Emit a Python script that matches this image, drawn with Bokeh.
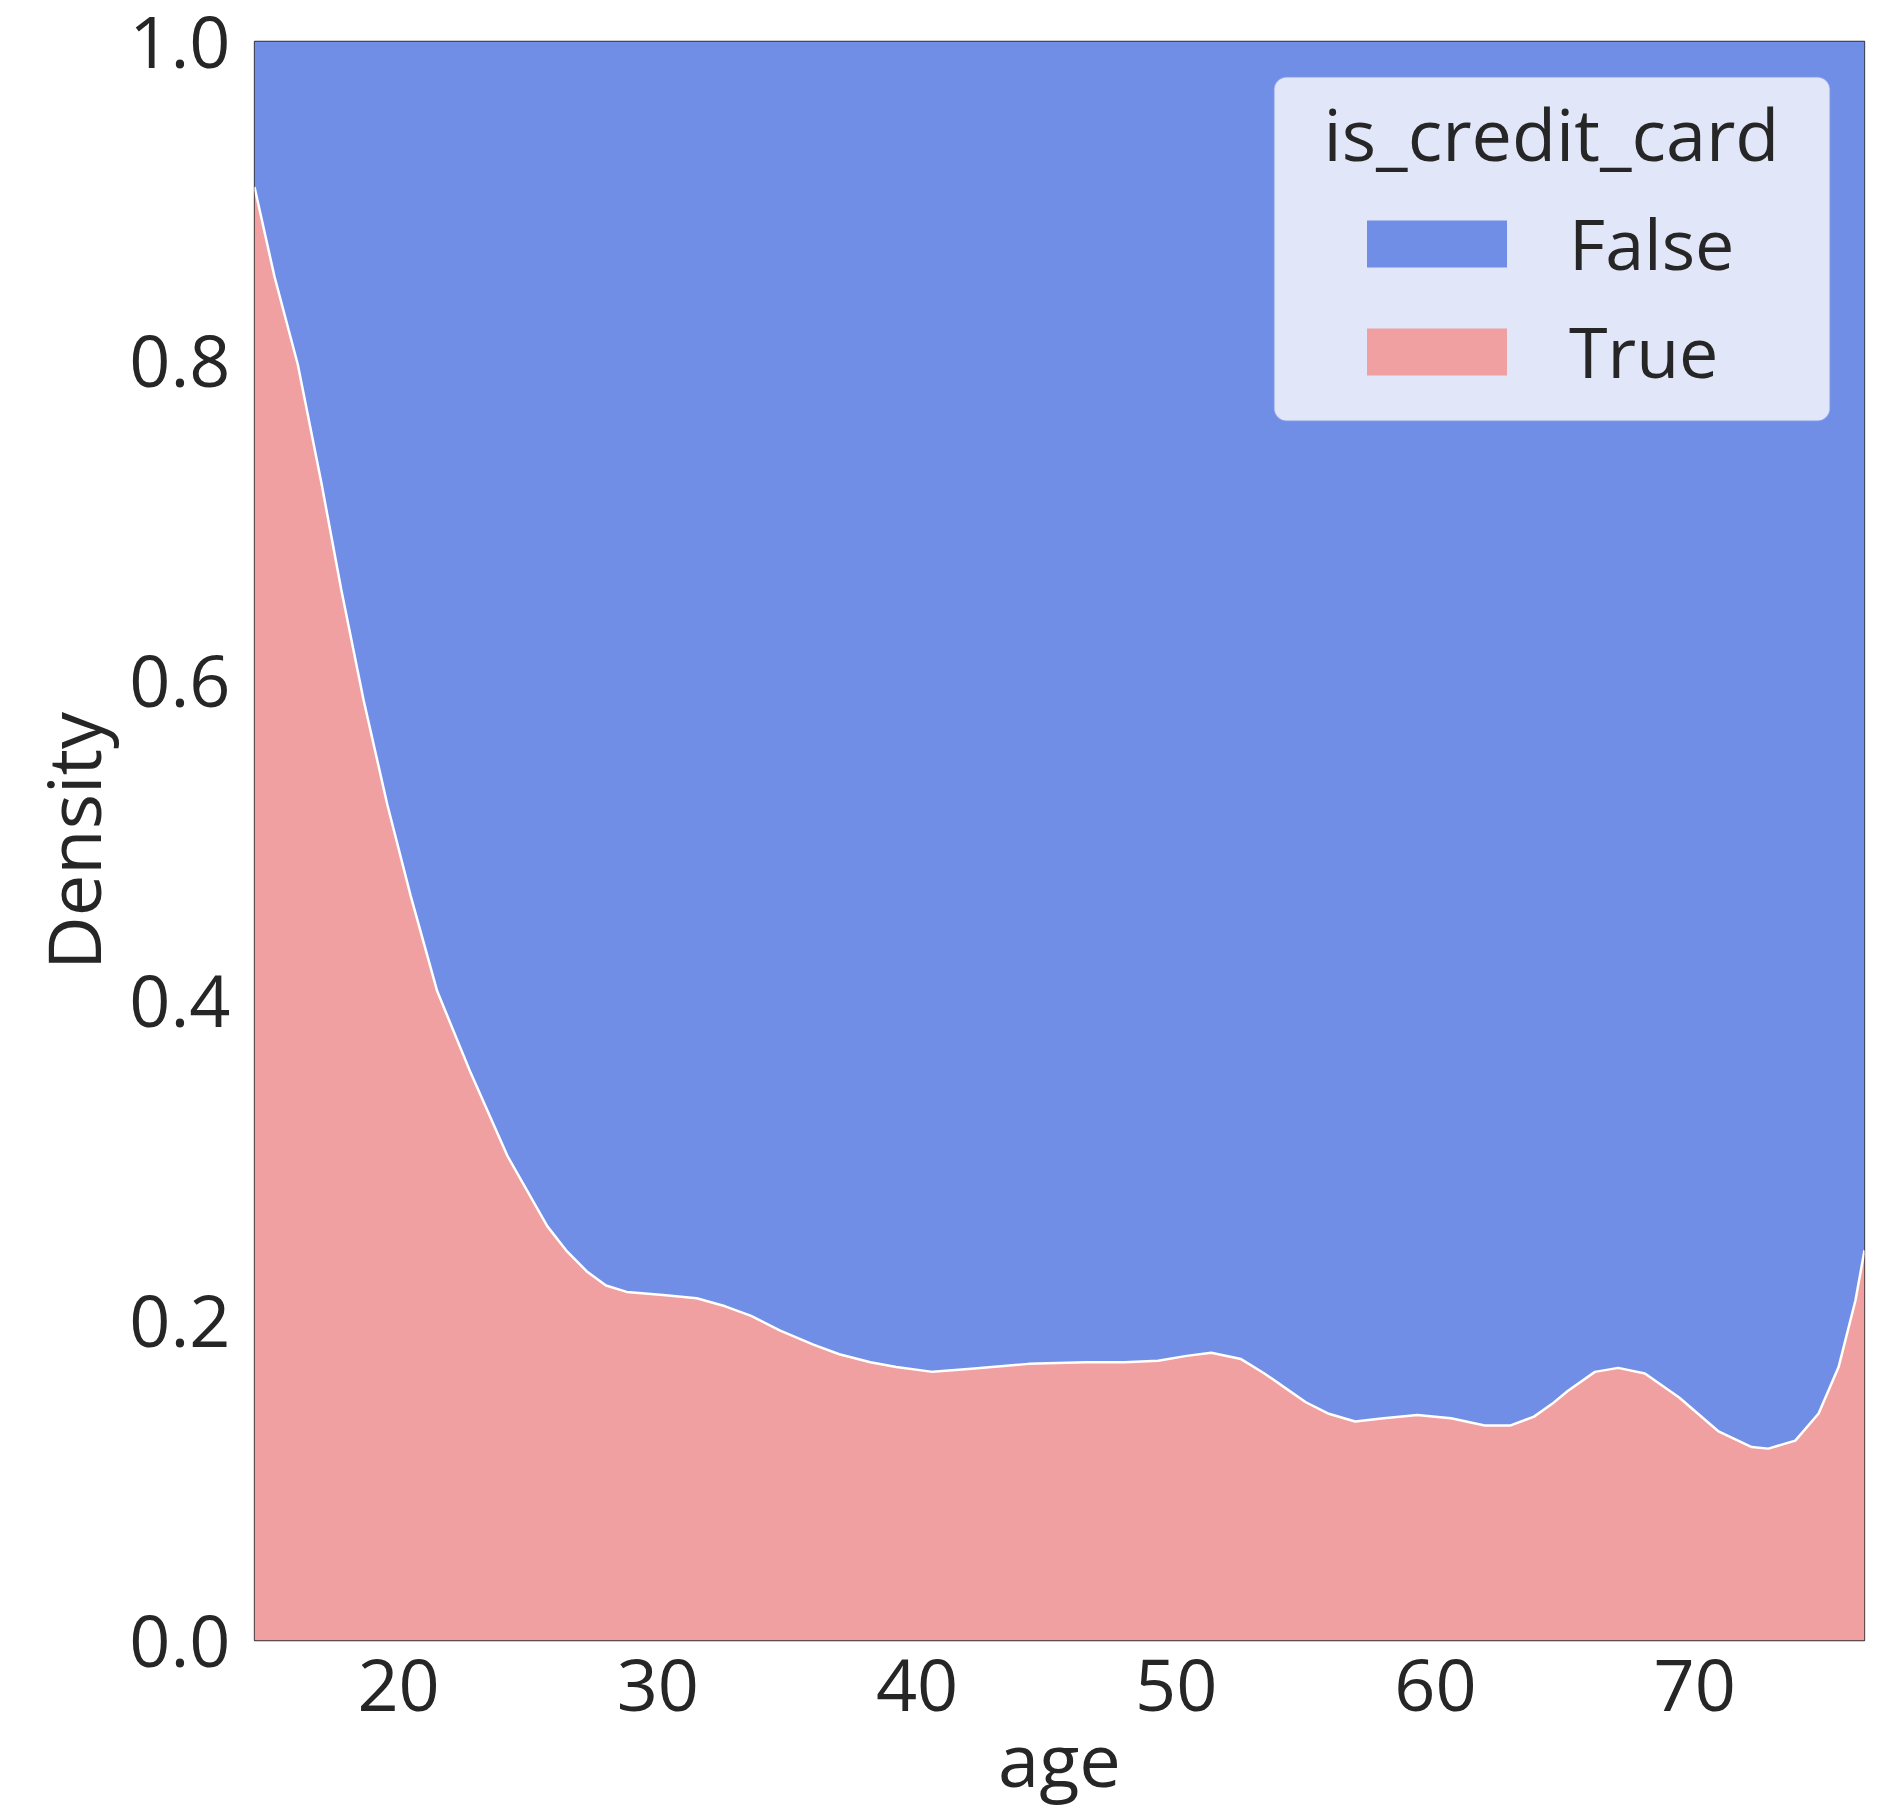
from bokeh.plotting import figure
from bokeh.models import (Range1d, FixedTicker, Legend, LegendItem, BoxAnnotation,
                          Label, ColumnDataSource, PrintfTickFormatter)
from bokeh.embed import file_html
from bokeh.resources import INLINE

# ---- data (share of "True" at each age) ----
age = [14.44, 15.21, 16.11, 17.02, 17.79, 18.65, 19.56, 20.46, 21.49, 22.78,
       24.2, 25.74, 26.46, 27.25, 28.0, 28.8, 30.2, 31.5, 32.6, 33.6,
       34.7, 36.0, 37.0, 38.2, 39.2, 40.6, 42.1, 44.3, 46.5, 48.0,
       49.3, 50.4, 51.35, 52.5, 53.4, 54.2, 55.0, 55.85, 56.9, 58.0,
       59.3, 60.6, 61.9, 62.9, 63.8, 64.5, 65.1, 66.15, 67.05, 68.08,
       69.4, 70.9, 72.2, 72.84, 73.88, 74.78, 75.55, 76.2, 76.55]
share_true = [0.909, 0.853, 0.798, 0.724, 0.657, 0.588, 0.523, 0.466, 0.406, 0.355,
              0.303, 0.259, 0.244, 0.231, 0.222, 0.218, 0.216, 0.214, 0.209, 0.203,
              0.194, 0.185, 0.179, 0.174, 0.171, 0.168, 0.170, 0.173, 0.174, 0.174,
              0.175, 0.178, 0.180, 0.176, 0.167, 0.158, 0.149, 0.142, 0.137, 0.139,
              0.141, 0.139, 0.1345, 0.1345, 0.140, 0.148, 0.156, 0.168, 0.1705, 0.167,
              0.152, 0.131, 0.121, 0.120, 0.125, 0.142, 0.171, 0.2126, 0.244]
categories = ["False", "True"]
legend_title = "is_credit_card"
x_ticks = [20, 30, 40, 50, 60, 70]
y_ticks = [0.0, 0.2, 0.4, 0.6, 0.8, 1.0]
x_label = "age"
y_label = "Density"

# ---- styles ----
FONT = "Open Sans"
TXT = "#262626"
BLUE = "#708EE6"
PINK = "#F0A0A0"

src = ColumnDataSource(dict(age=age, share_true=share_true,
                            full=[1.0] * len(age)))

p = figure(width=1880, height=1812,
           x_range=Range1d(14.44, 76.55), y_range=Range1d(0, 1),
           output_backend="svg", toolbar_location=None,
           min_border_left=254, min_border_top=41,
           min_border_right=16, min_border_bottom=172)

r_false = p.varea(x="age", y1="share_true", y2="full", source=src,
                  fill_color=BLUE, fill_alpha=1)
r_true = p.varea(x="age", y1=0, y2="share_true", source=src,
                 fill_color=PINK, fill_alpha=1)
p.line(x="age", y="share_true", source=src, line_color="white", line_width=2.5)

p.xgrid.visible = False
p.ygrid.visible = False
p.outline_line_color = "#333333"
p.outline_line_width = 1.3
p.background_fill_color = "white"

for ax in (p.xaxis[0], p.yaxis[0]):
    ax.axis_line_color = None
    ax.major_tick_line_color = None
    ax.minor_tick_line_color = None
    ax.major_tick_out = 0
    ax.major_tick_in = 0
    ax.minor_tick_out = 0
    ax.major_label_text_font = FONT
    ax.major_label_text_font_size = "72px"
    ax.major_label_text_color = TXT
    ax.axis_label_text_font = FONT
    ax.axis_label_text_font_size = "74px"
    ax.axis_label_text_font_style = "normal"
    ax.axis_label_text_color = TXT

p.xaxis.ticker = FixedTicker(ticks=x_ticks)
p.xaxis.formatter = PrintfTickFormatter(format="%d")
p.xaxis.axis_label = x_label
p.xaxis.major_label_standoff = 18
p.xaxis.axis_label_standoff = -6

p.yaxis.ticker = FixedTicker(ticks=y_ticks)
p.yaxis.formatter = PrintfTickFormatter(format="%.1f")
p.yaxis.axis_label = y_label
p.yaxis.major_label_standoff = 24
p.yaxis.axis_label_standoff = 3

# legend background box (screen px from the frame's bottom-left corner)
box = BoxAnnotation(left=1020, right=1575, top=1563, bottom=1220,
                    left_units="screen", right_units="screen",
                    top_units="screen", bottom_units="screen",
                    fill_color="#E1E6F8", fill_alpha=1,
                    line_color="#CFD7F2", line_width=1.5, border_radius=12)
p.add_layout(box)

title = Label(x=1297, y=1508, x_units="screen", y_units="screen",
              text=legend_title, text_font=FONT, text_font_size="72px",
              text_color=TXT, text_align="center", text_baseline="alphabetic")
p.add_layout(title)

legend = Legend(items=[LegendItem(label=categories[0], renderers=[r_false]),
                       LegendItem(label=categories[1], renderers=[r_true])],
                location=(1095, 1239), orientation="vertical",
                padding=0, spacing=8, margin=0,
                glyph_width=175, glyph_height=59, label_standoff=45,
                label_height=100,
                label_text_font=FONT, label_text_font_size="70px",
                label_text_color=TXT,
                background_fill_alpha=0, border_line_alpha=0)
p.add_layout(legend)

open("out.html", "w").write(file_html(p, INLINE))
